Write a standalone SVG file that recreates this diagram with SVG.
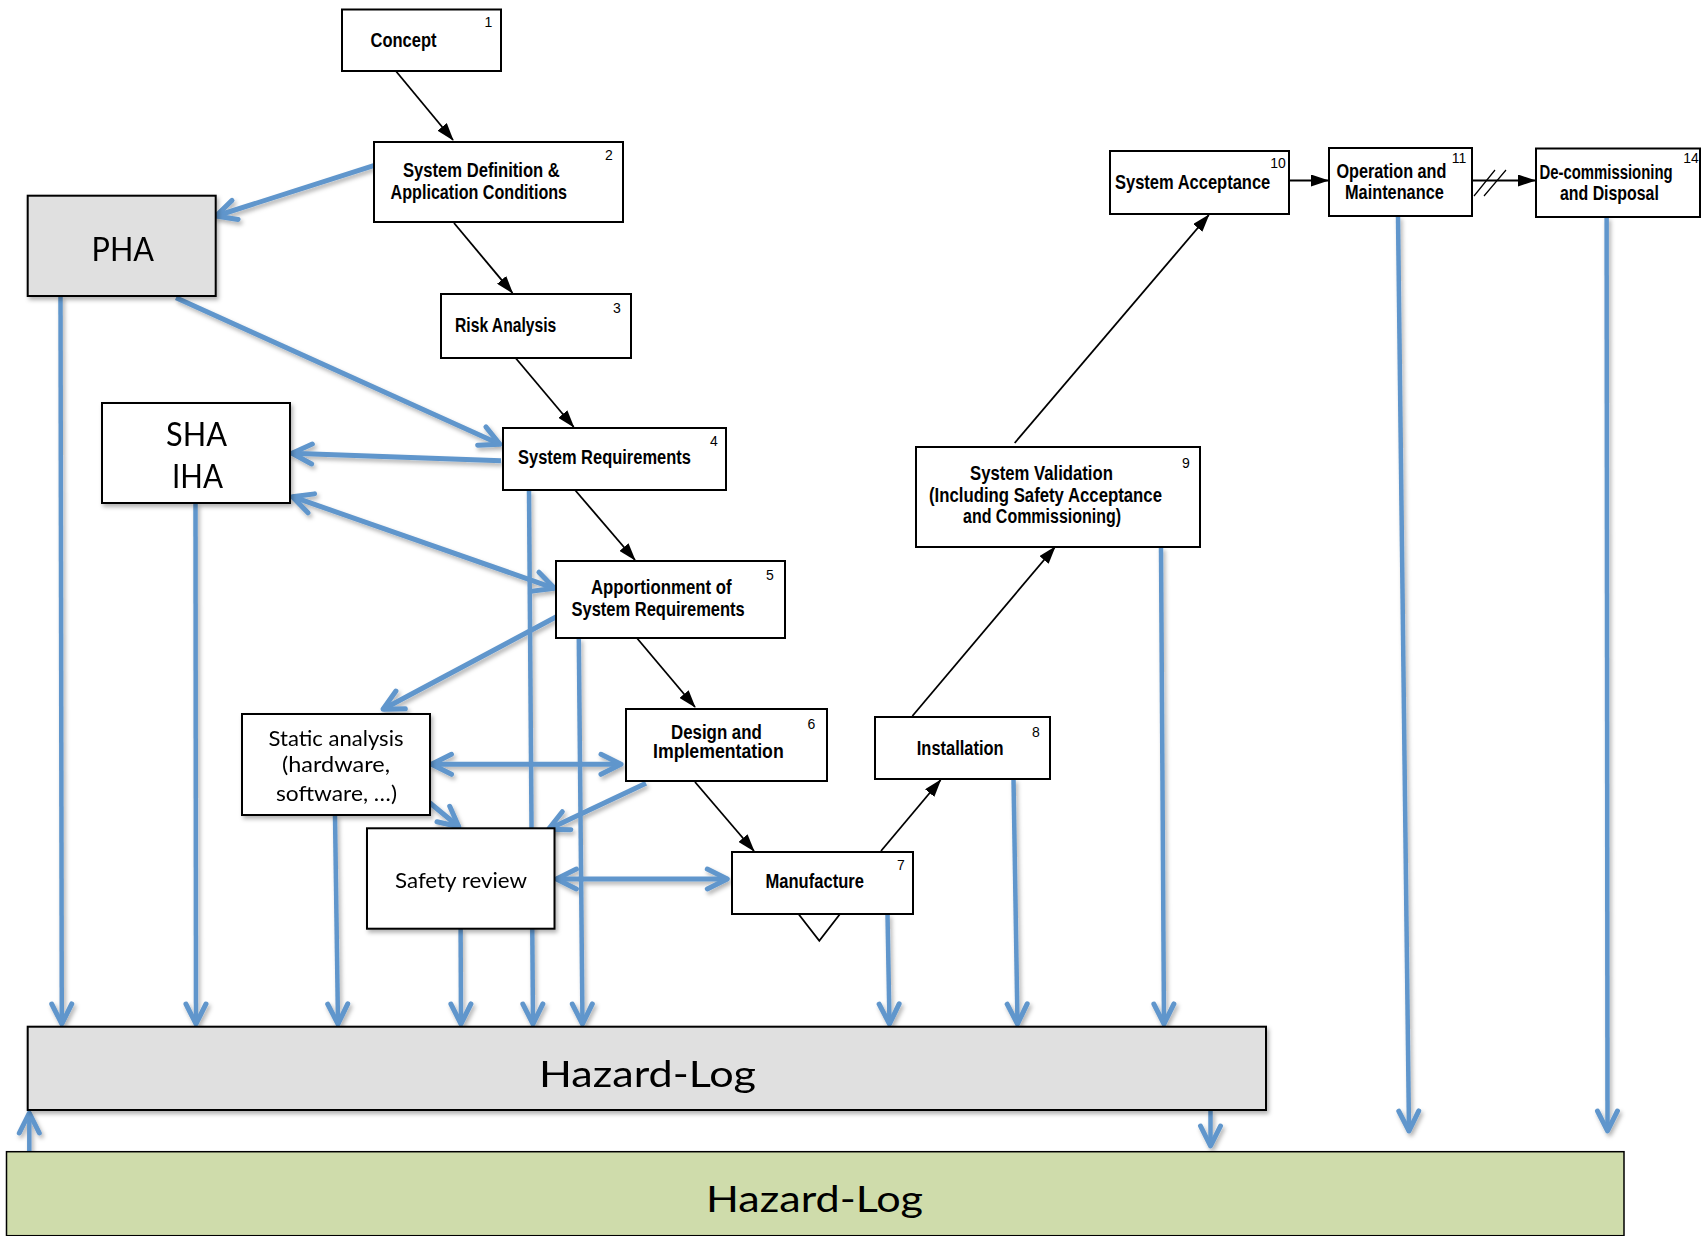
<svg xmlns="http://www.w3.org/2000/svg" width="1701" height="1236" viewBox="0 0 1701 1236">
<defs>
<style>
.box{fill:#fff;stroke:#000;stroke-width:2}
.gray{fill:#e0e0e0;stroke:#000;stroke-width:2}
.green{fill:#cfdcab;stroke:#000;stroke-width:1.5}
.lb{font-family:"Liberation Sans",Arial,sans-serif;font-weight:bold;font-size:21px;fill:#000}
.num{font-family:"Liberation Sans",Arial,sans-serif;font-size:14px;fill:#000;text-anchor:middle}
.cal{font-family:Lato,"Open Sans",sans-serif;fill:#000}
.blk{stroke:#000;stroke-width:1.8;fill:none;marker-end:url(#tri)}
.thin{stroke:#000;stroke-width:1.2;fill:none}
.bl{stroke:#6096cc;stroke-width:5;fill:none;marker-end:url(#chev)}
.bi{marker-start:url(#chev)}
.vl{stroke:#6096cc;stroke-width:4.5;fill:none;marker-end:url(#chev)}
</style>
<marker id="tri" markerUnits="userSpaceOnUse" markerWidth="18" markerHeight="12" viewBox="0 0 18 12" refX="17" refY="6" orient="auto"><path d="M0,0 L18,6 L0,12 z" fill="#000"/></marker>
<marker id="chev" markerUnits="userSpaceOnUse" viewBox="-26 -15 30 30" refX="0" refY="0" markerWidth="30" markerHeight="30" orient="auto-start-reverse"><path d="M-20,-10 L0,0 L-20,10" fill="none" stroke="#6096cc" stroke-width="5" stroke-linecap="round" stroke-linejoin="round"/></marker>
<filter id="sh" filterUnits="userSpaceOnUse" x="0" y="0" width="1701" height="1236"><feDropShadow dx="2" dy="3" stdDeviation="2" flood-color="#000" flood-opacity="0.3"/></filter>
</defs>
<rect width="1701" height="1236" fill="#fff"/>

<g id="connectors">
<g id="blue-connectors" filter="url(#sh)">
<path class="bl" d="M373.7,165.7 L216,216"/>
<path class="bl" d="M176,297.7 L500,444.3"/>
<path class="bl" d="M501,460.7 L292,453.3"/>
<path class="bl bi" d="M292.4,496.7 L554.5,588.3"/>
<path class="bl" d="M556.4,616.7 L383,709.3"/>
<path class="bl bi" d="M431.5,764.3 L621,764.3"/>
<path class="bl" d="M429.7,802.7 L458.8,826.7"/>
<path class="bl" d="M646,783.3 L548.5,829.3"/>
<path class="bl bi" d="M556.4,879 L727.3,879"/>
<path class="vl" d="M60.5,296 L61.8,1024"/>
<path class="vl" d="M195.5,503 L196,1024"/>
<path class="vl" d="M335,815 L338,1024"/>
<path class="vl" d="M460.6,929 L461,1024"/>
<path class="vl" d="M529,490 L533,1024"/>
<path class="vl" d="M578.8,638 L582.5,1024"/>
<path class="vl" d="M887.5,914 L889.5,1024"/>
<path class="vl" d="M1013.5,779 L1017.5,1024"/>
<path class="vl" d="M1161,547 L1164,1024"/>
<path class="vl" d="M1398,216 L1409,1131"/>
<path class="vl" d="M1606.6,217 L1607.5,1131"/>
<path class="vl" d="M1210.5,1111 L1210.5,1146"/>
<path class="vl" d="M29.3,1151 L29.3,1113"/>
</g>
<g id="black-connectors">
<path class="blk" d="M395,70 L453,140"/>
<path class="blk" d="M454,223 L512.5,293"/>
<path class="blk" d="M515.6,358 L573.7,427"/>
<path class="blk" d="M575,490 L635,560"/>
<path class="blk" d="M636,637 L695,707"/>
<path class="blk" d="M695,782 L754,851"/>
<path class="blk" d="M881,851 L940.6,780"/>
<path class="blk" d="M912.4,716 L1055,547"/>
<path class="blk" d="M1014.7,443 L1208.8,215"/>
<path class="blk" d="M1289,180.5 L1328,180.5"/>
<path class="blk" d="M1472,180.5 L1535,180.5"/>
<path class="thin" d="M1474,196 L1495,170 M1484,196 L1506,170"/>
</g>
</g>

<g id="n1-concept">
<rect class="box" x="342" y="9.5" width="159" height="61.5"/>
<text class="lb" transform="matrix(0.786,0,0,1,370.5,46.7)">Concept</text>
<text class="num" x="488.5" y="26.5">1</text>
</g>
<g id="n2-system-definition">
<rect class="box" x="374" y="142" width="249" height="80"/>
<text class="lb" transform="matrix(0.791,0,0,1,403,176.7)">System Definition &amp;</text>
<text class="lb" transform="matrix(0.768,0,0,1,390.6,199)">Application Conditions</text>
<text class="num" x="609" y="160">2</text>
</g>
<g id="n3-risk-analysis">
<rect class="box" x="441" y="294" width="190" height="64"/>
<text class="lb" transform="matrix(0.747,0,0,1,455,331.7)">Risk Analysis</text>
<text class="num" x="617" y="313">3</text>
</g>
<g id="n4-system-requirements">
<rect class="box" x="503" y="428" width="223" height="62"/>
<text class="lb" transform="matrix(0.784,0,0,1,518,464.3)">System Requirements</text>
<text class="num" x="714" y="446">4</text>
</g>
<g id="n5-apportionment">
<rect class="box" x="556" y="561" width="229" height="77"/>
<text class="lb" transform="matrix(0.798,0,0,1,591,594)">Apportionment of</text>
<text class="lb" transform="matrix(0.786,0,0,1,571.5,616)">System Requirements</text>
<text class="num" x="770" y="580">5</text>
</g>
<g id="n6-design">
<rect class="box" x="626" y="709" width="201" height="72"/>
<text class="lb" font-size="20" transform="matrix(0.803,0,0,1,671,738.5)">Design and</text>
<text class="lb" font-size="20" transform="matrix(0.843,0,0,1,653,758)">Implementation</text>
<text class="num" x="811.5" y="729">6</text>
</g>
<g id="n7-manufacture">
<rect class="box" x="732" y="852" width="181" height="62"/>
<path class="thin" style="stroke-width:1.8" d="M798.5,914 L819.3,940.7 L840,914"/>
<text class="lb" transform="matrix(0.789,0,0,1,765.5,888)">Manufacture</text>
<text class="num" x="901" y="870">7</text>
</g>
<g id="n8-installation">
<rect class="box" x="875" y="717" width="175" height="62"/>
<text class="lb" transform="matrix(0.783,0,0,1,916.8,755)">Installation</text>
<text class="num" x="1036" y="736.5">8</text>
</g>
<g id="n9-system-validation">
<rect class="box" x="916" y="447" width="284" height="100"/>
<text class="lb" transform="matrix(0.795,0,0,1,970,480)">System Validation</text>
<text class="lb" transform="matrix(0.798,0,0,1,929,501.5)">(Including Safety Acceptance</text>
<text class="lb" transform="matrix(0.761,0,0,1,963,523.3)">and Commissioning)</text>
<text class="num" x="1186" y="468">9</text>
</g>
<g id="n10-system-acceptance">
<rect class="box" x="1110" y="151" width="179" height="63"/>
<text class="lb" transform="matrix(0.786,0,0,1,1115,188.6)">System Acceptance</text>
<text class="num" x="1278" y="168">10</text>
</g>
<g id="n11-operation">
<rect class="box" x="1329" y="148" width="143" height="68"/>
<text class="lb" transform="matrix(0.773,0,0,1,1336.5,178)">Operation and</text>
<text class="lb" transform="matrix(0.777,0,0,1,1345,199)">Maintenance</text>
<text class="num" x="1459" y="163">11</text>
</g>
<g id="n14-decommissioning">
<rect class="box" x="1536" y="148.5" width="164" height="68.5"/>
<text class="lb" transform="matrix(0.709,0,0,1,1539.5,178.6)">De-commissioning</text>
<text class="lb" transform="matrix(0.757,0,0,1,1560,200)">and Disposal</text>
<text class="num" x="1691" y="163">14</text>
</g>

<g id="pha" filter="url(#sh)">
<rect class="gray" x="27.7" y="195.7" width="188" height="100.3"/>
<text class="cal" x="91.5" y="261" font-size="33" textLength="62.5" lengthAdjust="spacingAndGlyphs">PHA</text>
</g>
<g id="sha-iha" filter="url(#sh)">
<rect class="box" x="102" y="403" width="188" height="100"/>
<text class="cal" x="166" y="446" font-size="32" textLength="61" lengthAdjust="spacingAndGlyphs">SHA</text>
<text class="cal" x="172" y="488" font-size="32" textLength="51" lengthAdjust="spacingAndGlyphs">IHA</text>
</g>
<g id="static-analysis" filter="url(#sh)">
<rect class="box" x="242" y="714" width="188" height="101"/>
<text class="cal" x="268.5" y="745.7" font-size="22" textLength="135" lengthAdjust="spacingAndGlyphs">Static analysis</text>
<text class="cal" x="282" y="772.3" font-size="22" textLength="108" lengthAdjust="spacingAndGlyphs">(hardware,</text>
<text class="cal" x="276" y="801" font-size="22" textLength="121" lengthAdjust="spacingAndGlyphs">software, …)</text>
</g>
<g id="safety-review" filter="url(#sh)">
<rect class="box" x="367" y="828.3" width="187.5" height="100.4"/>
<text class="cal" x="395" y="887.7" font-size="22" textLength="132" lengthAdjust="spacingAndGlyphs">Safety review</text>
</g>
<g id="hazard-log-1" filter="url(#sh)">
<rect class="gray" x="27.7" y="1026.7" width="1238.3" height="83.3"/>
<text class="cal" x="539" y="1087.3" font-size="36" textLength="217" lengthAdjust="spacingAndGlyphs">Hazard-Log</text>
</g>
<g id="hazard-log-2">
<rect class="green" x="6.5" y="1151.7" width="1617.5" height="84"/>
<text class="cal" x="706" y="1212.3" font-size="36" textLength="217" lengthAdjust="spacingAndGlyphs">Hazard-Log</text>
</g>
</svg>
